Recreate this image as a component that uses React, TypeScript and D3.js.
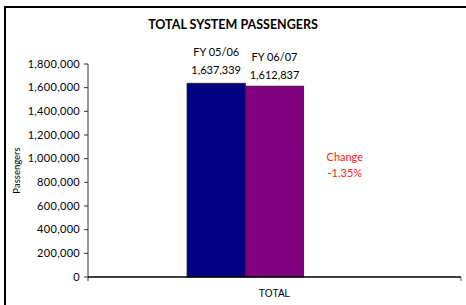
import * as d3 from "d3"

const categories = ["TOTAL"]
const seriesNames = ["FY 05/06", "FY 06/07", "Change"]
const seriesValues = [1637339, 1612837]
const seriesColors = ["#000080", "#800080"]
const changeLabel = ["Change", "-1.35%"]
const yTicks = [0, 200000, 400000, 600000, 800000, 1000000, 1200000, 1400000, 1600000, 1800000]

const W = 466
const H = 305
const MARGIN = { top: 64, right: 5, bottom: 28, left: 88 }
const FONT = "Lato, 'Open Sans', sans-serif"

const App = () => {
  const yScale = d3
    .scaleLinear()
    .domain([0, 1800000])
    .range([H - MARGIN.bottom, MARGIN.top])

  const xScale = d3
    .scaleBand()
    .domain(categories)
    .range([MARGIN.left, W - MARGIN.right])
    .paddingInner(0)
    .paddingOuter(0.566)

  const inner = d3
    .scaleBand()
    .domain(seriesNames)
    .range([0, xScale.bandwidth()])

  const fmt = d3.format(",")
  const x0 = xScale.range()[0]
  const x1 = xScale.range()[1]
  const y0 = yScale(0)
  const cat = categories[0]

  return (
    <svg
      width={W}
      height={H}
      style={{ position: "absolute", left: 0, top: 0, background: "#fff" }}
      fontFamily={FONT}
    >
      {/* chart frame, runs off the right and bottom */}
      <rect x={5} y={7} width={W + 10} height={H + 10} fill="none" stroke="#000" strokeWidth={2} />

      <text
        x={W / 2}
        y={29}
        textAnchor="middle"
        fontSize={12.5}
        fontWeight="bold"
      >
        TOTAL SYSTEM PASSENGERS
      </text>

      {/* y axis */}
      <line x1={x0} x2={x0} y1={yScale(1800000)} y2={y0 + 4} stroke="#333" />
      {yTicks.map((t) => (
        <g key={t}>
          <line x1={x0 - 4} x2={x0} y1={yScale(t)} y2={yScale(t)} stroke="#333" />
          <text
            x={x0 - 8}
            y={yScale(t)}
            dy="0.32em"
            textAnchor="end"
            fontSize={11}
            letterSpacing={0.3}
          >
            {t === 0 ? "0" : fmt(t)}
          </text>
        </g>
      ))}
      <text
        transform={`translate(20, ${(yScale(1800000) + y0) / 2}) rotate(-90)`}
        textAnchor="middle"
        fontSize={9.5}
      >
        Passengers
      </text>

      {/* bars */}
      {seriesValues.map((v, i) => {
        const bx = (xScale(cat) ?? 0) + (inner(seriesNames[i]) ?? 0)
        const bw = inner.bandwidth()
        return (
          <g key={seriesNames[i]}>
            <rect
              x={bx}
              y={yScale(v)}
              width={bw}
              height={y0 - yScale(v)}
              fill={seriesColors[i]}
              stroke="#222"
              strokeWidth={0.8}
            />
            <text
              x={bx + bw / 2}
              y={yScale(v) - 27 + i * 2}
              textAnchor="middle"
              fontSize={11}
            >
              {seriesNames[i]}
            </text>
            <text
              x={bx + bw / 2}
              y={yScale(v) - 9 + i * 2}
              textAnchor="middle"
              fontSize={11}
            >
              {fmt(v)}
            </text>
          </g>
        )
      })}

      {/* change label over the empty third slot */}
      {changeLabel.map((s, i) => (
        <text
          key={s}
          x={(xScale(cat) ?? 0) + (inner("Change") ?? 0) + inner.bandwidth() / 2 + 12}
          y={yScale(1000000) + 2 + i * 16}
          textAnchor="middle"
          fontSize={11}
          fill="#ff2020"
        >
          {s}
        </text>
      ))}

      {/* x axis */}
      <line x1={x0} x2={x1} y1={y0} y2={y0} stroke="#000" strokeWidth={1.3} />
      <line x1={x1} x2={x1} y1={y0} y2={y0 + 4} stroke="#555" />
      <text
        x={(xScale(cat) ?? 0) + xScale.bandwidth() / 2}
        y={y0 + 20}
        textAnchor="middle"
        fontSize={10}
        fontFamily="'Liberation Sans', Arial, sans-serif"
      >
        {cat}
      </text>
    </svg>
  )
}

export default App
